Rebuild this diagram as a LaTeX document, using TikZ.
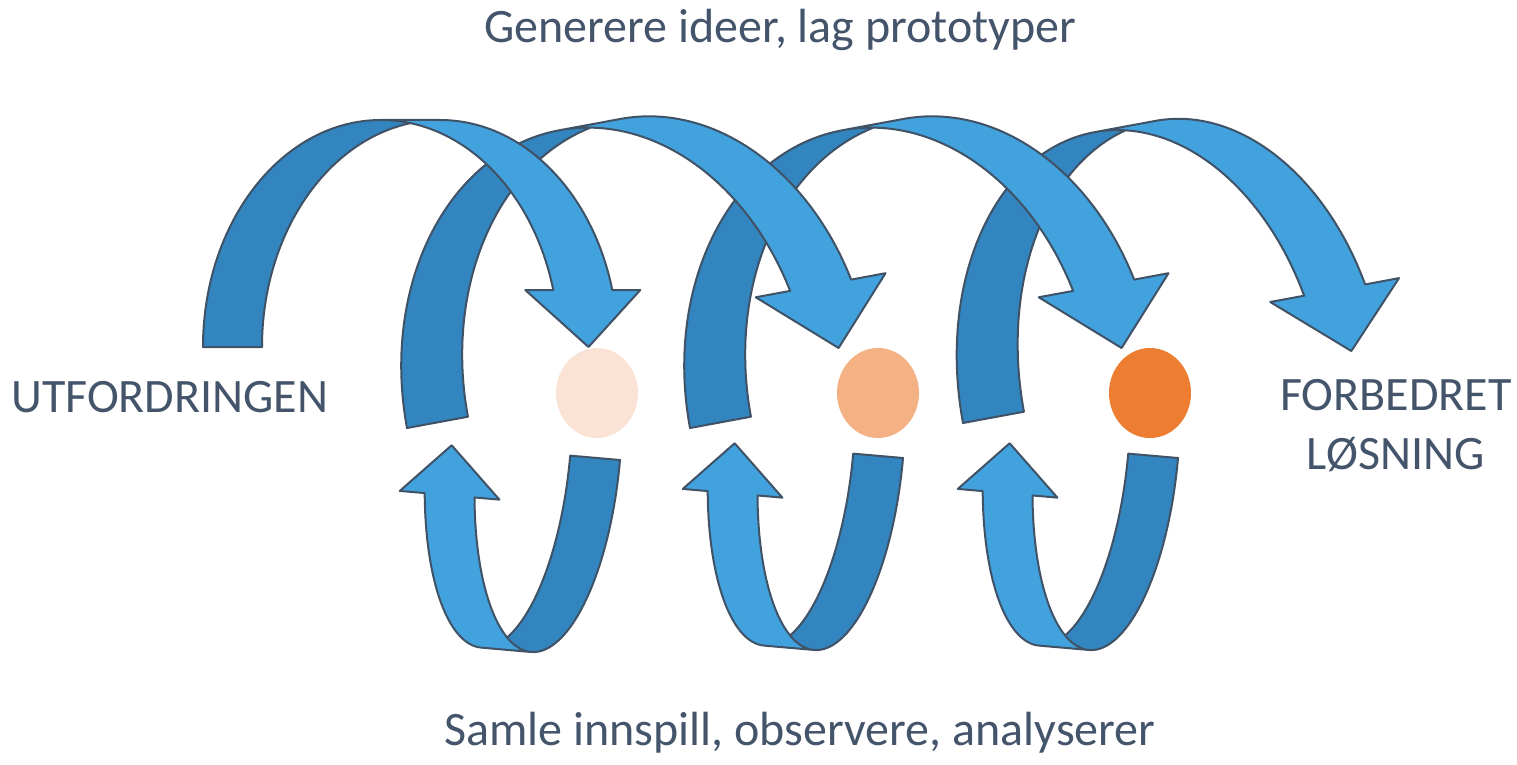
\documentclass[tikz,border=0pt]{standalone}
\usepackage{fontspec}
\setmainfont{Carlito}
\usetikzlibrary{calc,positioning}

\definecolor{frontblue}{HTML}{42A2DE}
\definecolor{backblue}{HTML}{3385BF}
\definecolor{rimgray}{HTML}{3F5266}
\definecolor{textslate}{HTML}{44546A}
\definecolor{peachA}{HTML}{FAE3D5}
\definecolor{peachB}{HTML}{F4B183}
\definecolor{peachC}{HTML}{ED7D31}

\tikzset{
  front/.style={fill=frontblue},
  back/.style={fill=backblue},
  rim/.style={draw=rimgray, line width=2pt, line join=round},
  lbl/.style={font=\fontsize{48}{59}\selectfont, text=textslate, inner sep=0pt}
}

% twisted ribbon arrow: #1,#2 leg corner (px), #3 rotation, #4 half width,
% #5 band thickness, #6 height, #7 head width, #8 head length
\newcommand{\ribbonarrow}[8]{%
  \begin{scope}[shift={(#1,-#2)}, rotate=#3]
    \pgfmathsetmacro{\ang}{asin(#8/#6)}
    \pgfmathsetmacro{\dxx}{#4*cos(\ang)}
    \pgfmathsetmacro{\wing}{(#7-#5)/2}
    \pgfmathsetmacro{\cut}{acos(#5/(2*#4))}
    \pgfmathsetmacro{\cutb}{180-\cut}
    \coordinate (x4) at ({#4+\dxx-\wing}, #8);
    \coordinate (x5) at ({#4+\dxx}, #8);
    \coordinate (x8) at ({#4+#5+\dxx+\wing}, #8);
    \coordinate (tip) at ({2*#4+#5/2}, 0);
    \coordinate (ix) at ({#4+#5/2}, {#6*sin(\cut)});
    % front half with the head
    \fill[front] (x4) -- (x5) arc[start angle=\ang, end angle=90, x radius=#4pt, y radius=#6pt]
      -- ++(#5,0) arc[start angle=90, end angle=\ang, x radius=#4pt, y radius=#6pt]
      -- (x8) -- (tip) -- cycle;
    % back half, darker
    \fill[back] (0,0) arc[start angle=180, end angle=\cut, x radius=#4pt, y radius=#6pt]
      arc[start angle=\cutb, end angle=180, x radius=#4pt, y radius=#6pt] -- cycle;
    % outline
    \draw[rim] (ix) arc[start angle=\cutb, end angle=180, x radius=#4pt, y radius=#6pt]
      -- (0,0) arc[start angle=180, end angle=90, x radius=#4pt, y radius=#6pt]
      -- ++(#5,0) arc[start angle=90, end angle=\ang, x radius=#4pt, y radius=#6pt]
      -- (x8) -- (tip) -- (x4) -- (x5)
      arc[start angle=\ang, end angle=90, x radius=#4pt, y radius=#6pt];
  \end{scope}}

\begin{document}
\begin{tikzpicture}[x=1pt, y=1pt]
\useasboundingbox (0,0) rectangle (1517,-765);

% upper arrows, right to left so each front lies over the next back
\foreach \px/\py/\rot/\wr/\tk/\hh/\aw/\ah in {963/423/10.5/182/62/262/131/63,
    690/428/10.5/204/62/265/132/65, 407/428/10.5/204/62/265/132/65, 203/347/0/178/59/227/115/57} {
  \ribbonarrow{\px}{\py}{\rot}{\wr}{\tk}{\hh}{\aw}{\ah}
}

% lower arrows, turned upside down
\foreach \px/\py in {620/460, 903/458, 1178/458} {
  \ribbonarrow{\px}{\py}{175}{72}{50}{199}{100}{50}
}

% the three steps
\foreach \cx/\col in {597/peachA, 878/peachB, 1150/peachC} {
  \fill[\col] (\cx,-393) ellipse (41 and 45);
}

\node[lbl, anchor=base west] (ideas) at (484,-43) {Generere ideer, lag prototyper};
\node[lbl, anchor=base west] (input) at (444,-745) {Samle innspill, observere, analyserer};
\node[lbl, anchor=base west] (start) at (11,-412) {UTFORDRINGEN};
\node[lbl, anchor=north, align=center] (goal) at (1396,-379) {FORBEDRET\\LØSNING};
\end{tikzpicture}
\end{document}
